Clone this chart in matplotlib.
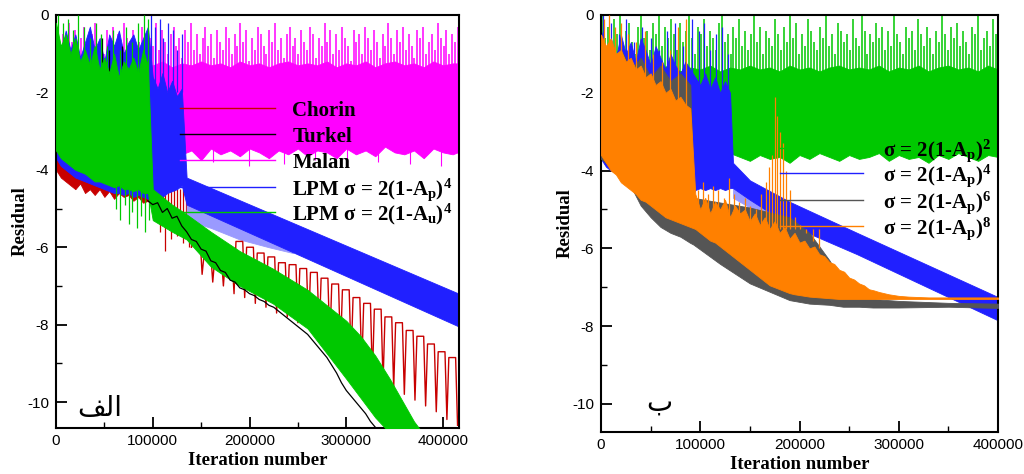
import numpy as np
import matplotlib
matplotlib.use("Agg")
import matplotlib.pyplot as plt

plt.rcParams['font.family'] = ['Liberation Sans', 'DejaVu Sans']
plt.rcParams['mathtext.fontset'] = 'custom'
plt.rcParams['mathtext.rm'] = 'Liberation Serif:bold'
plt.rcParams['mathtext.it'] = 'Liberation Serif:bold'
plt.rcParams['mathtext.bf'] = 'Liberation Serif:bold'
plt.rcParams['mathtext.default'] = 'rm'

# ---------------- colours ----------------
C_RED, C_BLACK, C_MAG, C_BLUE, C_GREEN = '#c80000', '#000000', '#ff00ff', '#2020ff', '#00c800'
C_GRAY, C_ORANGE, C_LBLUE = '#555555', '#ff8000', '#9a9aff'

# ================= LEFT PANEL DATA (الف) =================
xticks = [0, 100000, 200000, 300000, 400000]
xtick_labels = ['0', '100000', '200000', '300000', '400000']
yticks = [0, -2, -4, -6, -8, -10]

# Malan: noisy band + spikes
mal_x = np.arange(0, 420001, 10000)
mal_hi = [-1.2, -1.3, -1.25, -1.35, -1.2, -1.3, -1.25, -1.2, -1.35, -1.25, -1.3, -1.2, -1.35, -1.25, -1.3,
          -1.2, -1.3, -1.25, -1.35, -1.2, -1.3, -1.25, -1.35, -1.25, -1.2, -1.3, -1.25, -1.3, -1.2, -1.35,
          -1.25, -1.3, -1.2, -1.35, -1.25, -1.2, -1.3, -1.25, -1.35, -1.2, -1.3, -1.25, -1.25]
mal_lo = [-3.5, -3.6, -3.45, -3.7, -3.5, -3.55, -3.65, -3.4, -3.6, -3.5, -3.7, -3.45, -3.55, -3.6, -3.5,
          -3.75, -3.45, -3.6, -3.5, -3.65, -3.45, -3.55, -3.7, -3.5, -3.6, -3.45, -3.65, -3.5, -3.55, -3.7,
          -3.45, -3.6, -3.5, -3.65, -3.4, -3.55, -3.6, -3.5, -3.7, -3.45, -3.55, -3.6, -3.5]
mal_spike_x = np.arange(1500, 416000, 3000)
mal_spike_top = [
    -0.3, -0.9, -0.5, -1.1, -0.2, -0.7, -0.4, -1.0, -0.6, -0.3, -0.8, -1.2, -0.5, -0.2, -0.9, -0.6, -1.0, -0.4, -0.7, -0.3,
    -1.1, -0.5, -0.8, -0.2, -0.6, -0.9, -0.4, -1.0, -0.7, -0.3, -0.5, -1.2, -0.6, -0.8, -0.2, -0.9, -0.4, -0.7, -1.0, -0.5,
    -0.3, -0.8, -0.6, -1.1, -0.4, -0.7, -0.2, -0.9, -0.5, -1.0, -0.6, -0.3, -0.8, -0.5, -1.1, -0.4, -0.7, -0.9, -0.3, -0.6,
    -1.0, -0.5, -0.8, -0.2, -0.7, -0.4, -1.2, -0.6, -0.9, -0.3, -0.5, -0.8, -1.0, -0.4, -0.7, -0.2, -0.9, -0.6, -1.1, -0.5,
    -0.3, -0.8, -0.6, -1.0, -0.4, -0.7, -0.9, -0.3, -0.5, -1.1, -0.6, -0.8, -0.2, -0.7, -0.4, -1.0, -0.5, -0.9, -0.3, -0.6,
    -0.8, -1.2, -0.4, -0.7, -0.5, -1.0, -0.3, -0.6, -0.9, -0.4, -0.7, -1.1, -0.5, -0.8, -0.2, -0.6, -1.0, -0.4, -0.7, -0.3,
    -0.9, -0.5, -0.8, -1.1, -0.4, -0.6, -0.3, -1.0, -0.7, -0.5, -0.9, -0.2, -0.6, -0.8, -0.4, -1.0, -0.5, -0.7, -0.3]
mal_dspike_x = [20000, 47000, 88000, 131000, 162000, 199000, 236000, 268000, 301000, 333000, 366000, 398000]
mal_dspike_bot = [-3.85, -3.9, -3.8, -3.95, -3.8, -3.9, -3.85, -3.75, -3.9, -3.8, -3.85, -3.9]

# LPM sigma = 2(1-Ap)^4 : noisy part then straight band
bl_x = [0, 5000, 10000, 15000, 20000, 25000, 30000, 35000, 40000, 45000, 50000, 55000, 60000, 65000,
        70000, 75000, 80000, 85000, 90000, 95000, 100000, 105000, 110000, 115000, 120000, 125000,
        130000, 135000, 416500]
bl_hi = [-0.6, -1.0, -0.4, -0.9, -0.5, -1.1, -0.7, -0.3, -0.9, -0.6, -1.2, -0.5, -0.8, -0.4,
         -1.0, -0.7, -0.5, -0.9, -0.6, -0.3, -1.6, -1.9, -1.5, -2.0, -1.7, -2.1,
         -1.9, -4.2, -7.2]
bl_lo = [-3.7, -3.9, -4.0, -4.1, -4.2, -4.25, -4.3, -4.35, -4.4, -4.45, -4.5, -4.55, -4.6, -4.6,
         -4.65, -4.6, -4.7, -4.65, -4.7, -4.75, -4.7, -4.6, -4.7, -4.6, -4.55, -4.5,
         -4.4, -4.9, -8.05]
bl_fringe_x = [135000, 160000, 190000, 220000, 245000]
bl_fringe_hi = [-4.6, -4.9, -5.2, -5.5, -5.8]
bl_fringe_lo = [-5.3, -5.5, -5.8, -6.0, -6.15]
bl_spike_x = [98000, 102000, 107000, 111000, 116000, 121000, 125000, 130000]
bl_spike_top = [0.0, -0.3, -0.1, -0.6, -0.2, -0.4, -0.9, -0.5]

# Chorin: noisy start, scattered spikes, then periodic arcs
ch_x = np.arange(0, 100001, 5000)
ch_hi = [-3.5] * 21
ch_lo = [-4.0, -4.2, -4.3, -4.4, -4.5, -4.35, -4.6, -4.5, -4.65, -4.5, -4.7, -4.55, -4.75, -4.6,
         -4.7, -4.65, -4.8, -4.7, -4.85, -4.8, -5.0]
ch_spike_x = [102000, 105000, 108000, 111000, 113000, 116000, 119000, 122000, 125000, 128000,
              131000, 134000, 137000, 140000]
ch_spike_bot = [-5.0, -5.3, -5.6, -5.2, -6.1, -5.5, -5.8, -5.4, -5.7, -5.3, -5.9, -5.6, -6.0, -6.0]
ch_trough_x = np.arange(140000, 415001, 11000)
ch_trough = [-6.0, -6.7, -6.9, -7.0, -7.2, -7.3, -7.45, -7.55, -7.7, -7.8, -7.95, -8.1, -8.3,
             -8.5, -8.7, -8.9, -9.1, -9.35, -9.5, -9.65, -9.8, -9.95, -10.1, -10.25, -10.45, -10.6]
ch_peak = [-5.8, -6.2, -6.3, -6.3, -5.85, -6.0, -6.15, -6.25, -6.4, -6.45, -6.55, -6.65, -6.8,
           -6.95, -7.1, -7.3, -7.45, -7.6, -7.8, -7.95, -8.15, -8.3, -8.5, -8.7, -8.85]

# Turkel
tk_x = np.arange(95000, 335001, 5000)
tk_y = [-4.8, -4.9, -4.85, -5.1, -5.0, -5.25, -5.2, -5.45, -5.6, -5.8, -5.85, -6.05, -6.1, -6.35,
        -6.4, -6.6, -6.65, -6.85, -6.9, -7.05, -7.1, -7.2, -7.25, -7.35, -7.4, -7.5, -7.55, -7.65,
        -7.75, -7.85, -7.95, -8.05, -8.15, -8.25, -8.4, -8.55, -8.7, -8.85, -9.05, -9.25, -9.5, -9.7,
        -9.85, -10.0, -10.15, -10.3, -10.5, -10.65, -10.8]
tk_spike_x = [30000, 48000, 55000, 60000, 68000]
tk_spike_top = [-1.2, -0.6, -0.9, -1.5, -0.8]

# LPM sigma = 2(1-Au)^4
gl_x = [0, 5000, 10000, 15000, 20000, 25000, 30000, 35000, 40000, 45000, 50000, 55000, 60000, 65000,
        70000, 75000, 80000, 85000, 90000, 95000,
        100000, 110000, 120000, 135000, 160000, 190000, 224000, 260000, 300000, 315000, 330000,
        345000, 370000, 385000]
gl_hi = [-0.2, -0.8, -0.5, -1.0, -0.6, -1.2, -0.9, -1.3, -0.8, -1.4, -1.1, -1.5, -1.0, -1.6,
         -1.2, -1.4, -1.1, -1.5, -0.9, -1.3,
         -4.5, -4.7, -4.9, -5.15, -5.6, -6.1, -6.55, -7.1, -7.9, -8.3, -8.8, -9.4, -10.5, -11.0]
gl_lo = [-3.5, -3.7, -3.8, -3.9, -4.0, -4.05, -4.1, -4.2, -4.3, -4.3, -4.35, -4.4, -4.45, -4.4,
         -4.5, -4.5, -4.55, -4.5, -4.6, -4.6,
         -5.3, -5.45, -5.6, -5.8, -6.5, -7.0, -7.45, -8.1, -9.4, -9.9, -10.4, -10.8, -11.0, -11.0]
gl_spike_x = [2000, 7000, 12000, 18000, 23000, 29000, 35000, 41000, 47000, 53000, 59000, 66000,
              72000, 79000, 85000, 91000, 95000]
gl_spike_top = [0.0, -0.2, -0.1, -0.4, 0.0, -0.3, -0.6, -0.2, -0.5, -0.8, -0.4, -0.9, -0.3, -0.7,
                -0.2, 0.0, -0.1]
gl_tooth_x = [62000, 66000, 71000, 75000, 79000, 84000, 88000, 92000, 96000]
gl_tooth_bot = [-5.0, -5.3, -4.9, -5.4, -5.1, -5.5, -5.2, -5.6, -5.3]

# ================= RIGHT PANEL DATA (ب) =================
# sigma = 2(1-Ap)^2
g2_x = np.arange(0, 400001, 10000)
g2_hi = [-1.3, -1.4, -1.35, -1.45, -1.3, -1.4, -1.35, -1.3, -1.45, -1.35, -1.4, -1.3, -1.45, -1.35, -1.4,
         -1.3, -1.4, -1.35, -1.45, -1.3, -1.4, -1.35, -1.45, -1.35, -1.3, -1.4, -1.35, -1.4, -1.3, -1.45,
         -1.35, -1.4, -1.3, -1.45, -1.35, -1.3, -1.4, -1.35, -1.45, -1.3, -1.4]
g2_lo = [-3.5, -3.6, -3.7, -3.55, -3.65, -3.75, -3.6, -3.7, -3.55, -3.65, -3.8, -3.6, -3.7, -3.55,
         -3.65, -3.75, -3.6, -3.7, -3.65, -3.8, -3.6, -3.7, -3.55, -3.65, -3.75, -3.6, -3.7, -3.65,
         -3.55, -3.75, -3.6, -3.7, -3.65, -3.8, -3.6, -3.7, -3.55, -3.65, -3.75, -3.6, -3.65]
g2_spike_x = np.arange(1500, 400000, 3000)
g2_spike_top = [
    0.0, -0.6, -0.3, -0.9, -0.1, -0.5, 0.0, -0.8, -0.4, -0.2, -0.7, -1.0, -0.3, 0.0, -0.6, -0.4, -0.9, -0.2, -0.5, 0.0,
    -0.8, -0.3, -0.6, -0.1, -0.5, -0.9, -0.2, -0.7, -0.4, 0.0, -0.6, -1.0, -0.3, -0.5, -0.1, -0.8, -0.4, -0.6, -0.9, -0.2,
    0.0, -0.7, -0.5, -1.0, -0.3, -0.6, -0.1, -0.8, -0.4, -0.9, -0.5, 0.0, -0.7, -0.3, -1.0, -0.4, -0.6, -0.8, -0.1, -0.5,
    -0.9, -0.3, -0.7, 0.0, -0.6, -0.2, -1.0, -0.5, -0.8, -0.1, -0.4, -0.7, -0.9, -0.3, -0.6, 0.0, -0.8, -0.5, -1.0, -0.2,
    -0.4, -0.7, -0.5, -0.9, -0.1, -0.6, -0.8, 0.0, -0.4, -1.0, -0.5, -0.7, -0.2, -0.6, -0.3, -0.9, -0.4, -0.8, 0.0, -0.5,
    -0.7, -1.0, -0.3, -0.6, -0.4, -0.9, -0.1, -0.5, -0.8, -0.3, -0.6, -1.0, -0.4, -0.7, 0.0, -0.5, -0.9, -0.3, -0.6, -0.2,
    -0.8, -0.4, -0.7, -1.0, -0.3, -0.5, 0.0, -0.9, -0.6, -0.4, -0.8, -0.1, -0.5]

# sigma = 2(1-Ap)^4
b4_x = [0, 5000, 10000, 15000, 20000, 25000, 30000, 35000, 40000, 45000, 50000, 55000, 60000, 65000,
        70000, 75000, 80000, 85000, 90000, 95000, 100000, 105000, 110000, 115000, 120000, 125000,
        130000, 133000, 150000, 190000, 258000, 400000]
b4_hi = [-0.4, -0.9, -0.6, -1.1, -0.5, -1.0, -0.7, -1.2, -0.6, -0.9, -1.3, -0.8, -1.1, -1.4,
         -1.0, -1.3, -1.5, -1.2, -1.4, -1.6, -1.8, -1.5, -1.9, -1.6, -2.0, -1.7,
         -2.0, -3.8, -4.25, -4.8, -5.6, -7.25]
b4_lo = [-3.7, -3.9, -4.0, -4.05, -4.1, -4.2, -4.2, -4.3, -4.35, -4.4, -4.45, -4.5, -4.5, -4.55,
         -4.6, -4.6, -4.65, -4.7, -4.7, -4.5, -4.45, -4.5, -4.45, -4.5, -4.45, -4.5,
         -4.45, -4.45, -4.75, -5.4, -6.15, -7.85]
b4_fringe_x = [133000, 150000, 170000, 190000, 210000]
b4_fringe_hi = [-4.2, -4.5, -4.8, -5.1, -5.5]
b4_fringe_lo = [-4.7, -4.95, -5.2, -5.5, -5.7]
b4_spike_x = [2000, 10000, 18000, 25000, 33000, 41000, 50000, 58000, 66000, 75000, 83000, 92000,
              99000, 104000, 110000, 116000, 122000, 128000]
b4_spike_top = [0.0, -0.2, -0.5, -0.1, -0.7, -0.3, -0.6, -0.9, -0.4, -0.2, -0.8, -0.1, -0.4, -0.2,
                -0.9, -0.5, -0.3, -1.0]

# sigma = 2(1-Ap)^6
g6_x = [0, 10000, 20000, 30000, 40000, 50000, 60000, 70000, 80000, 90000,
        93000, 120000, 150000, 190000, 210000, 230000, 244000, 260000, 274000, 300000, 350000, 400000]
g6_hi = [-0.8, -1.2, -0.9, -1.4, -1.1, -1.6, -1.3, -1.7, -1.5, -1.8,
         -4.7, -4.82, -4.95, -5.2, -5.6, -6.3, -6.9, -7.2, -7.3, -7.35, -7.4, -7.42]
g6_lo = [-3.7, -3.9, -4.1, -4.4, -4.9, -5.2, -5.45, -5.6, -5.7, -5.86,
         -5.9, -6.4, -6.9, -7.33, -7.42, -7.45, -7.5, -7.5, -7.52, -7.52, -7.5, -7.53]

# sigma = 2(1-Ap)^8
o8_x = [0, 5000, 10000, 15000, 20000, 25000, 30000, 35000, 40000, 45000, 50000, 55000, 60000, 65000,
        70000, 75000, 80000, 85000, 90000,
        95000, 100000, 105000, 110000, 115000, 120000, 125000, 130000, 135000, 140000, 145000,
        150000, 155000, 160000, 165000, 170000, 175000, 180000, 185000, 190000, 195000, 200000,
        205000, 210000, 215000, 220000, 225000, 230000, 235000, 240000, 245000, 250000, 255000,
        260000, 265000, 270000, 275000, 280000, 285000, 290000, 295000, 300000, 310000, 320000,
        330000, 400000]
o8_hi = [-0.5, -0.8, -0.6, -1.0, -0.9, -1.2, -1.1, -1.4, -1.3, -1.6, -1.5, -1.8, -1.7, -2.0,
         -1.9, -2.2, -2.1, -2.3, -2.4,
         -4.6, -5.0, -4.7, -5.1, -4.8, -5.0, -4.75, -5.2, -4.9, -5.1, -5.0,
         -5.3, -5.1, -5.4, -5.2, -5.5, -5.3, -5.6, -5.45, -5.75, -5.6, -5.85,
         -5.8, -6.0, -5.95, -6.15, -6.2, -6.35, -6.4, -6.55, -6.6, -6.75, -6.8,
         -6.9, -6.95, -7.05, -7.08, -7.12, -7.15, -7.18, -7.2, -7.22, -7.24, -7.25,
         -7.26, -7.26]
o8_lo = [-3.6, -3.8, -4.0, -4.1, -4.3, -4.4, -4.5, -4.6, -4.75, -4.8, -4.9, -5.0, -5.1, -5.2,
         -5.25, -5.3, -5.35, -5.4, -5.45,
         -5.5, -5.6, -5.7, -5.8, -5.85, -5.95, -6.05, -6.15, -6.25, -6.35, -6.45,
         -6.55, -6.65, -6.75, -6.85, -6.95, -7.0, -7.05, -7.1, -7.15, -7.18, -7.2,
         -7.22, -7.24, -7.25, -7.26, -7.27, -7.28, -7.29, -7.3, -7.3, -7.3, -7.3,
         -7.3, -7.3, -7.3, -7.3, -7.3, -7.3, -7.3, -7.3, -7.3, -7.3, -7.3,
         -7.3, -7.3]
o8_spike_x = [3000, 8000, 14000, 20000, 27000, 35000, 44000, 52000, 61000, 70000, 78000, 86000,
              98000, 103000, 108000, 113000, 118000, 124000, 129000, 134000, 139000, 145000, 150000,
              156000, 161000, 166000, 169000, 172000, 175000, 177000, 180000, 183000, 186000,
              190000, 195000, 201000, 207000, 214000, 220000]
o8_spike_top = [-0.1, 0.0, -0.3, -0.2, -0.5, -0.7, -0.4, -1.0, -1.2, -0.9, -0.3, -0.1,
                -4.5, -4.3, -4.6, -4.4, -4.5, -4.7, -4.2, -4.6, -4.8, -4.7, -4.9,
                -5.0, -4.6, -4.3, -3.9, -3.6, -2.1, -2.6, -3.0, -3.3, -4.0,
                -4.5, -5.2, -5.4, -5.6, -5.8, -6.0]
o8_spike_base = [-2.5] * 12 + [-5.5] * 27

# legend texts
left_labels = ['Chorin', 'Turkel', 'Malan',
               'LPM σ = 2(1-A$_{p}$)$^{4}$', 'LPM σ = 2(1-A$_{u}$)$^{4}$']
right_labels = ['σ = 2(1-A$_{p}$)$^{2}$', 'σ = 2(1-A$_{p}$)$^{4}$',
                'σ = 2(1-A$_{p}$)$^{6}$', 'σ = 2(1-A$_{p}$)$^{8}$']

# ================= FIGURE =================
fig = plt.figure(figsize=(10.24, 4.74), dpi=100)
axL = fig.add_axes([56 / 1024, 1 - 428 / 474, 403 / 1024, 413 / 474])
axR = fig.add_axes([601 / 1024, 1 - 432 / 474, 397 / 1024, 417 / 474])


def band(ax, x, lo, hi, color, z):
    ax.fill_between(x, lo, hi, color=color, lw=0.6, edgecolor=color, zorder=z)


def spikes(ax, x, base, top, color, z, lw=0.9):
    n = min(len(x), len(top))
    b = base if np.isscalar(base) else list(base)[:n]
    ax.vlines(list(x)[:n], b, list(top)[:n], colors=color, lw=lw, zorder=z)


# ----- left -----
band(axL, mal_x, mal_lo, mal_hi, C_MAG, 1)
spikes(axL, mal_spike_x, -2.0, mal_spike_top, C_MAG, 1, lw=1.1)
spikes(axL, mal_dspike_x, -3.0, mal_dspike_bot, C_MAG, 1, lw=0.8)
band(axL, ch_x, ch_lo, ch_hi, C_RED, 1.8)
spikes(axL, ch_spike_x, -4.5, ch_spike_bot, C_RED, 1.8)
band(axL, bl_fringe_x, bl_fringe_lo, bl_fringe_hi, C_LBLUE, 2)
band(axL, bl_x, bl_lo, bl_hi, C_BLUE, 2.5)
spikes(axL, bl_spike_x, -2.0, bl_spike_top, C_BLUE, 2.5)
# arcs of the Chorin history: trough -> top -> next trough
arc_x, arc_y = [], []
for k in range(len(ch_peak)):
    arc_x += [ch_trough_x[k], ch_trough_x[k] + 2000, ch_trough_x[k] + 9000]
    arc_y += [ch_trough[k], ch_peak[k], ch_peak[k]]
arc_x.append(ch_trough_x[-1])
arc_y.append(ch_trough[-1])
axL.plot(arc_x, arc_y, color=C_RED, lw=1.0, zorder=3.5)
spikes(axL, tk_spike_x, -3.0, tk_spike_top, C_BLACK, 3)
band(axL, gl_x, gl_lo, gl_hi, C_GREEN, 4)
spikes(axL, gl_spike_x, -2.0, gl_spike_top, C_GREEN, 4)
spikes(axL, gl_tooth_x, -4.3, gl_tooth_bot, C_GREEN, 4)
axL.plot(tk_x, tk_y, color=C_BLACK, lw=0.9, zorder=4.5)

# ----- right -----
band(axR, g2_x, g2_lo, g2_hi, C_GREEN, 1)
spikes(axR, g2_spike_x, -2.0, g2_spike_top, C_GREEN, 1, lw=1.1)
band(axR, b4_fringe_x, b4_fringe_lo, b4_fringe_hi, C_LBLUE, 2)
band(axR, b4_x, b4_lo, b4_hi, C_BLUE, 2.5)
spikes(axR, b4_spike_x, -2.0, b4_spike_top, C_BLUE, 2.5)
band(axR, g6_x, g6_lo, g6_hi, C_GRAY, 3)
band(axR, o8_x, o8_lo, o8_hi, C_ORANGE, 4)
spikes(axR, o8_spike_x, o8_spike_base, o8_spike_top, C_ORANGE, 4)

# ----- axes styling -----
for ax, xmax, ymin in [(axL, 416500, -10.67), (axR, 400000, -10.72)]:
    ax.set_xlim(0, xmax)
    ax.set_ylim(ymin, 0)
    ax.set_xticks(xticks)
    ax.set_xticklabels(xtick_labels)
    ax.set_xticks(np.arange(50000, xmax, 100000), minor=True)
    ax.set_yticks(yticks)
    ax.set_yticklabels([str(v) for v in yticks])
    ax.set_yticks([-1, -3, -5, -7, -9], minor=True)
    ax.tick_params(which='major', direction='in', length=8, width=1.3, labelsize=11,
                   top=False, right=False)
    ax.tick_params(which='minor', direction='in', length=4, width=1.0, top=False, right=False)
    ax.tick_params(axis='x', pad=4)
    ax.tick_params(axis='y', pad=5)
    for s in ax.spines.values():
        s.set_linewidth(1.5)
    ax.set_xlabel('Iteration number', family='Liberation Serif', weight='bold', fontsize=13.5,
                  labelpad=3)
    ax.set_ylabel('Residual', family='Liberation Serif', weight='bold', fontsize=13.5, labelpad=-1)

# ----- legends (drawn inside the axes, no frame) -----
left_colors = [C_RED, C_BLACK, C_MAG, C_BLUE, C_GREEN]
left_rows = [0.775, 0.712, 0.649, 0.584, 0.523]
for lab, col, yy in zip(left_labels, left_colors, left_rows):
    axL.plot([0.308, 0.543], [yy, yy], color=col, lw=1.0, transform=axL.transAxes, zorder=10)
    axL.text(0.586, yy - 0.019, lab, transform=axL.transAxes, family='Liberation Serif',
             weight='bold', fontsize=15, va='baseline', ha='left', zorder=11)

right_colors = [C_GREEN, C_BLUE, C_GRAY, C_ORANGE]
right_rows = [0.681, 0.621, 0.556, 0.494]
for lab, col, yy in zip(right_labels, right_colors, right_rows):
    axR.plot([0.451, 0.660], [yy, yy], color=col, lw=1.0, transform=axR.transAxes, zorder=10)
    axR.text(0.710, yy - 0.019, lab, transform=axR.transAxes, family='Liberation Serif',
             weight='bold', fontsize=15, va='baseline', ha='left', zorder=11)

# ----- panel letters (Persian) -----
axL.text(45500, -10.15, '\ufed2\ufedf\ufe8d', family=['DejaVu Sans'], fontsize=20,
         ha='center', va='center', zorder=12)
axR.text(58400, -9.95, '\u0628', family=['DejaVu Sans'], fontsize=20,
         ha='center', va='center', zorder=12)

fig.savefig('out.png', dpi=100)
